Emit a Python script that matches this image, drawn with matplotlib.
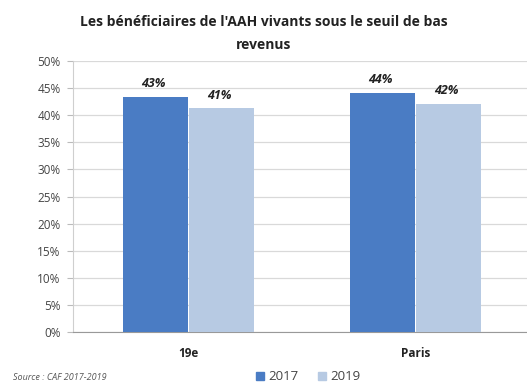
import matplotlib
matplotlib.use('Agg')
import matplotlib.pyplot as plt
import numpy as np

# parts des bénéficiaires de l'AAH sous le seuil de bas revenus
territoires = ['19e', 'Paris']
annees = ['2017', '2019']
part_2017 = [0.434, 0.442]
part_2019 = [0.413, 0.421]
y_ticks = np.arange(0, 0.51, 0.05)

couleurs = ['#4a7cc4', '#b7cae3']

plt.rcParams['font.family'] = ['Open Sans', 'DejaVu Sans']

fig = plt.figure(figsize=(5.27, 3.82), dpi=100)
ax = fig.add_axes([0.1385, 0.131, 0.8615, 0.709])

x = np.arange(len(territoires))
w = 0.285
for serie, dx, c in [(part_2017, -w / 2 - 0.003, couleurs[0]), (part_2019, w / 2 + 0.003, couleurs[1])]:
    bars = ax.bar(x + dx, serie, width=w, color=c, zorder=3)
    for b, v in zip(bars, serie):
        ax.text(b.get_x() + b.get_width() / 2 - 0.01, v + 0.012, '{:.0%}'.format(v),
                ha='center', va='bottom', fontsize=9, fontweight='bold', fontstyle='italic',
                color='#222222')

ax.set_xlim(-0.51, 1.49)
ax.set_ylim(0, 0.5)
ax.set_yticks(y_ticks)
ax.set_yticklabels(['{:.0f}%'.format(t * 100) for t in y_ticks], fontsize=8.5, color='#444444')
ax.set_xticks(x)
ax.set_xticklabels(territoires, fontsize=8.5, fontweight='bold', color='#222222')
ax.tick_params(axis='x', length=0, pad=11)
ax.tick_params(axis='y', length=4, color='#bbbbbb', pad=5)
ax.grid(axis='y', color='#d9d9d9', linewidth=0.9, zorder=0)
for s in ['top', 'right']:
    ax.spines[s].set_visible(False)
ax.spines['left'].set_color('#cfcfcf')
ax.spines['bottom'].set_color('#999999')

fig.text(0.5, 0.96, "Les bénéficiaires de l'AAH vivants sous le seuil de bas\nrevenus",
         ha='center', va='top', fontsize=10, fontweight='bold', color='#222222', linespacing=1.75)

# légende en bas
handles = [plt.Rectangle((0, 0), 1, 1, color=c) for c in couleurs]
fig.legend(handles, annees, loc='lower center', bbox_to_anchor=(0.585, -0.035), ncol=2, frameon=False,
           fontsize=9.5, handlelength=0.6, handleheight=0.6, handletextpad=0.3, columnspacing=1.5,
           labelcolor='#444444')

fig.text(0.025, 0.005, 'Source : CAF 2017-2019', fontsize=6.5, fontstyle='italic', color='#555555')

fig.savefig('out.png', dpi=100)
